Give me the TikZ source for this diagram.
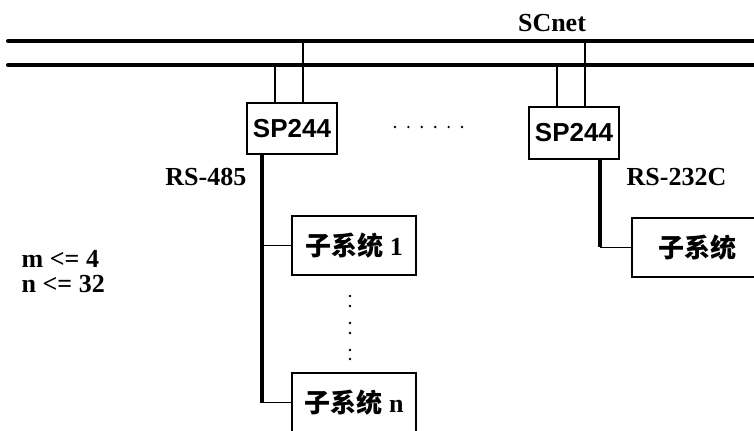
\documentclass[tikz,border=0pt]{standalone}
\usepackage{fontspec}
\setmainfont{Liberation Serif}
\newfontfamily\sansfont{Liberation Sans}
\newfontfamily\cjk{Noto Sans CJK SC}
\usetikzlibrary{positioning,calc}

\begin{document}
\begin{tikzpicture}[
    x=0.75pt, y=-0.75pt,
    font=\fontsize{19.5}{19.5}\selectfont\bfseries,
    bus/.style={line width=3pt, line cap=round},
    link/.style={line width=1.4pt},
    serial/.style={line width=3pt},
    unit/.style={draw, line width=1.3pt, minimum width=67.5pt, minimum height=38.5pt, inner sep=0pt, font=\fontsize{19.5}{19.5}\selectfont\sansfont\bfseries},
    subsys/.style={draw, line width=1.3pt, minimum width=93pt, minimum height=44pt, inner sep=0pt},
    dot/.style={circle, fill, inner sep=0pt, minimum size=2pt},
]
\useasboundingbox (0,0) rectangle (754,431);

% SCnet bus
\coordinate (b1w) at (8,41);
\coordinate (b1e) at (770,41);
\coordinate (b2w) at (8,65);
\coordinate (b2e) at (770,65);
\draw[bus] (b1w) -- (b1e);
\draw[bus] (b2w) -- (b2e);
\node[anchor=base] (scnet) at (552,32) {SCnet};

% Interface units
\node[unit] (sp1) at (292,128.5) {SP244};
\node[unit] (sp2) at (574,133) {SP244};

\coordinate (t1a) at (275,65);
\coordinate (t1b) at (303,41);
\coordinate (t2a) at (557,65);
\coordinate (t2b) at (585,41);
\draw[link] (t1a) -- (t1a |- sp1.north);
\draw[link] (t1b) -- (t1b |- sp1.north);
\draw[link] (t2a) -- (t2a |- sp2.north);
\draw[link] (t2b) -- (t2b |- sp2.north);

\foreach \i in {0,...,5}
    \node[dot] (hd\i) at (395+13.4*\i,127) {};

% RS-485 side
\node[subsys] (sub1) at (354,245.5) {{\cjk 子系统} 1};
\node[subsys] (subn) at (354,402.5) {{\cjk 子系统} n};
\node[anchor=base east] (rs485) at (251,186) {RS-485};

\coordinate (s1top) at (262,154);
\draw[serial] (s1top) -- (s1top |- subn.west);
\draw[link] (s1top |- sub1.west) -- (sub1.west);
\draw[link] (s1top |- subn.west) -- (subn.west);

\foreach \y [count=\k] in {296,306,323,333,350,359}
    \node[dot] (vd\k) at (350,\y) {};

% RS-232C side
\node[subsys, minimum width=97.5pt] (sub) at (697,247.5) {\cjk 子系统};
\node[anchor=base west] (rs232) at (622,186) {RS-232C};

\coordinate (s2top) at (600,159);
\draw[serial] (s2top) -- (s2top |- sub.west);
\draw[link] (s2top |- sub.west) -- (sub.west);

% Limits
\node[anchor=base west, align=left] (limits) at (17,293) {m <= 4\\n <= 32};

\end{tikzpicture}
\end{document}
